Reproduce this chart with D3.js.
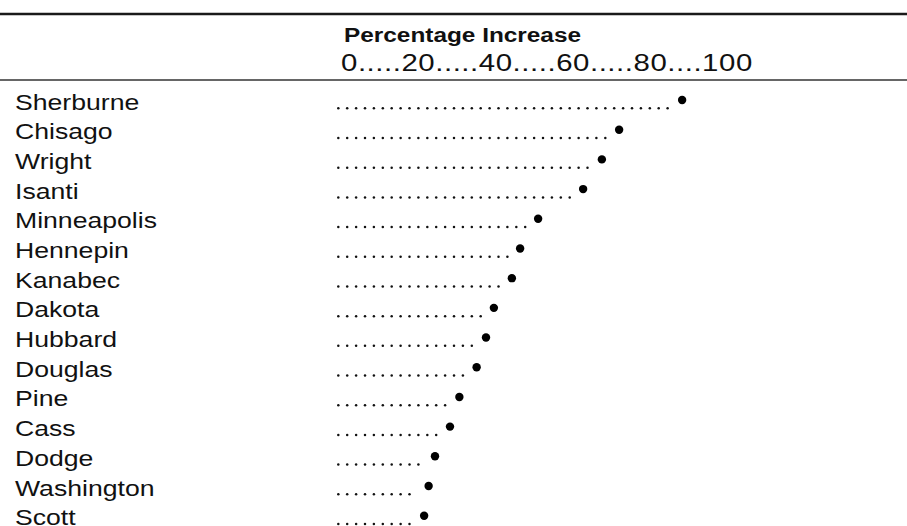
<!DOCTYPE html>
<html>
<head>
<meta charset="utf-8">
<script src="https://cdn.jsdelivr.net/npm/d3@7"></script>
<style>
  html, body { margin: 0; padding: 0; background: #fff; }
  svg { display: block; }
  text { font-family: "Liberation Sans", Arial, Helvetica, sans-serif; fill: #111; }
</style>
</head>
<body>
<svg id="chart" width="907" height="526"></svg>
<script>
// ---- data ----
const categories = ["Sherburne", "Chisago", "Wright", "Isanti", "Minneapolis", "Hennepin",
  "Kanabec", "Dakota", "Hubbard", "Douglas", "Pine", "Cass", "Dodge", "Washington", "Scott"];
const values = [89.1, 72.3, 67.7, 62.7, 50.7, 45.9, 43.7, 38.9, 36.8, 34.3, 29.7, 27.2, 23.2, 21.5, 20.3];
const tickLabels = ["0", "20", "40", "60", "80", "100"];
const tickDotGaps = [5, 5, 5, 5, 4];
const titleText = "Percentage Increase";

// ---- layout ----
const W = 907, H = 526;
const svg = d3.select("#chart");

const x = d3.scaleLinear().domain([0, 100]).range([348, 723]);
const y = d3.scalePoint().domain(categories).range([100, 515.7]);

// rules
svg.append("line").attr("x1", 0).attr("x2", W).attr("y1", 14).attr("y2", 14)
  .attr("stroke", "#1a1a1a").attr("stroke-width", 2.6);
svg.append("line").attr("x1", 0).attr("x2", W).attr("y1", 80).attr("y2", 80)
  .attr("stroke", "#333").attr("stroke-width", 1.3);

// header title
svg.append("text")
  .attr("transform", `translate(${x(0) - 4},42.3) scale(1.25,1)`)
  .attr("font-size", 19.5).attr("font-weight", "bold")
  .text(titleText);

// header scale string
let axisStr = tickLabels[0];
tickDotGaps.forEach((n, i) => { axisStr += ".".repeat(n) + tickLabels[i + 1]; });
svg.append("text")
  .attr("transform", `translate(${x(0) - 7},71) scale(1.25,1)`)
  .attr("font-size", 23.5)
  .attr("textLength", 329).attr("lengthAdjust", "spacing")
  .text(axisStr);

// rows
const rows = svg.append("g").selectAll("g").data(categories).join("g");

rows.append("text")
  .attr("transform", d => `translate(15,${y(d) + 9.5}) scale(1.21,1)`)
  .attr("font-size", 22)
  .text(d => d);

const pitch = 8.9;
const leaderStart = x(0) - 9.7;
rows.each(function(d, i) {
  const end = x(values[i]) - 11;
  const n = Math.floor((end - leaderStart) / pitch) + 1;
  d3.select(this).selectAll("circle.lead")
    .data(d3.range(n))
    .join("circle")
    .attr("class", "lead")
    .attr("cx", k => leaderStart + k * pitch)
    .attr("cy", y(d) + 8.3)
    .attr("r", 1.25)
    .attr("fill", "#111");
});

rows.append("circle")
  .attr("cx", (d, i) => x(values[i]))
  .attr("cy", d => y(d))
  .attr("r", 4.2)
  .attr("fill", "#000");
</script>
</body>
</html>
